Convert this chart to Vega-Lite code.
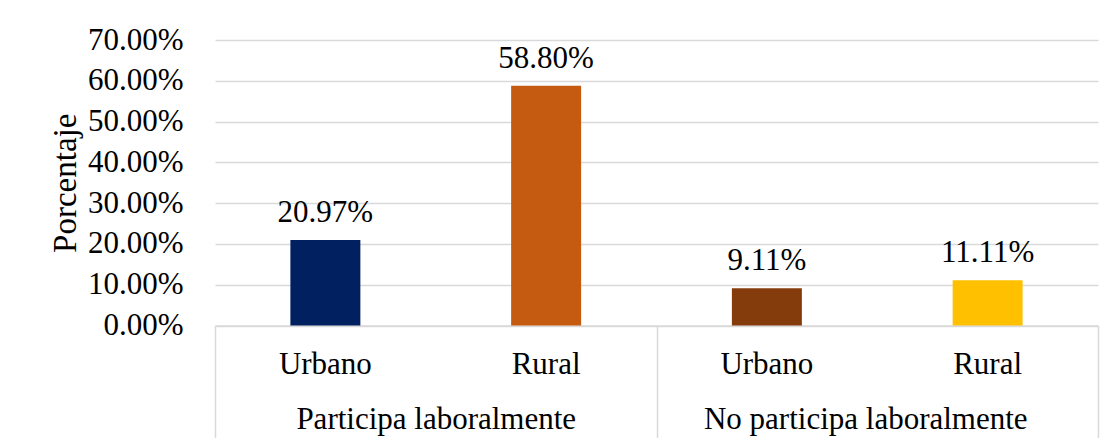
{
  "$schema": "https://vega.github.io/schema/vega-lite/v6.json",
  "autosize": {"type": "none"},
  "width": 883,
  "height": 285.5,
  "padding": {"left": 215, "top": 40, "right": 20, "bottom": 120.5},
  "background": "white",
  "config": {
    "font": "Liberation Serif",
    "view": {"stroke": null},
    "mark": {"font": "Liberation Serif"},
    "text": {"font": "Liberation Serif"},
    "axis": {"labelColor": "black", "titleColor": "black", "labelFont": "Liberation Serif", "titleFont": "Liberation Serif"}
  },
  "data": {
    "values": [
      {"grupo": "Participa laboralmente", "area": "Urbano", "key": "PU", "valor": 0.2097},
      {"grupo": "Participa laboralmente", "area": "Rural", "key": "PR", "valor": 0.588},
      {"grupo": "No participa laboralmente", "area": "Urbano", "key": "NU", "valor": 0.0911},
      {"grupo": "No participa laboralmente", "area": "Rural", "key": "NR", "valor": 0.1111}
    ]
  },
  "layer": [
    {
      "encoding": {
        "x": {
          "field": "key", "type": "nominal", "sort": ["PU", "PR", "NU", "NR"],
          "scale": {"type": "band", "paddingInner": 0, "paddingOuter": 0},
          "axis": {
            "orient": "bottom", "title": null, "ticks": false, "domain": false, "grid": false,
            "labelAngle": 0, "labelFontSize": 31, "labelPadding": 24,
            "labelExpr": "datum.value[1] == 'U' ? 'Urbano' : 'Rural'"
          }
        },
        "y": {
          "field": "valor", "type": "quantitative",
          "scale": {"domain": [0, 0.7], "nice": false},
          "axis": {
            "values": [0, 0.1, 0.2, 0.3, 0.4, 0.5, 0.6, 0.7],
            "format": ".2%", "title": "Porcentaje", "titleFontSize": 33, "titleFontWeight": "normal",
            "titlePadding": 5, "labelFontSize": 31, "labelPadding": 32,
            "domain": false, "ticks": false, "gridColor": "#d9d9d9", "gridWidth": 1.5
          }
        }
      },
      "layer": [
        {
          "mark": {"type": "bar", "width": {"band": 0.317}},
          "encoding": {
            "color": {
              "field": "key", "type": "nominal",
              "scale": {"domain": ["PU", "PR", "NU", "NR"], "range": ["#002060", "#c55a11", "#843c0c", "#ffc000"]},
              "legend": null
            }
          }
        },
        {
          "mark": {"type": "text", "fontSize": 31, "baseline": "alphabetic", "dy": -18, "color": "black", "font": "Liberation Serif"},
          "encoding": {
            "text": {"field": "valor", "type": "quantitative", "format": ".2%"}
          }
        }
      ]
    },
    {
      "mark": {"type": "point", "opacity": 0},
      "encoding": {
        "x": {
          "field": "grupo", "type": "nominal", "sort": ["Participa laboralmente", "No participa laboralmente"],
          "scale": {"type": "band", "paddingInner": 0, "paddingOuter": 0},
          "axis": {
            "orient": "bottom", "title": null, "grid": false, "labelAngle": 0, "labelLimit": 0,
            "labelFontSize": 31, "tickBand": "extent", "tickSize": 112, "tickColor": "#d9d9d9", "tickWidth": 1.5,
            "domainColor": "#d9d9d9", "domainWidth": 1.5, "labelPadding": -33,
            "labelOffset": {"condition": {"test": "datum.value == 'No participa laboralmente'", "value": -12}, "value": 0}
          }
        },
        "y": {"field": "valor", "type": "quantitative"}
      }
    }
  ],
  "resolve": {"scale": {"x": "independent"}, "axis": {"x": "independent"}}
}
